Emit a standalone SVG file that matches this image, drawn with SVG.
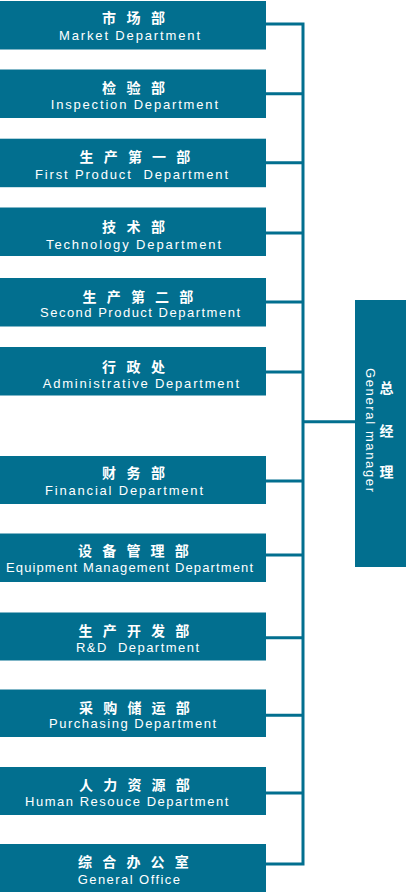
<svg xmlns="http://www.w3.org/2000/svg" width="406" height="894" viewBox="0 0 406 894">
<style>
.box{fill:#026f8f}
.cn{font-family:"Noto Sans CJK SC","Noto Sans",sans-serif;font-size:14px;font-weight:bold;fill:#fff;text-anchor:middle}
.en{font-family:"Liberation Sans",Arial,sans-serif;font-size:13px;fill:#fff}
.ln{stroke:#026f8f;stroke-width:3;fill:none}
</style>
<rect width="406" height="894" fill="#fff"/>
<g id="connectors">
<path class="ln" d="M266 24H303V864H266"/>
<path class="ln" d="M266 93.7H303M266 162.7H303M266 233H303M266 302H303M266 372H303M266 481H303M266 555H303M266 637.7H303M266 715.3H303M266 793H303M303 421.7H355"/>
</g>
<g id="gm">
<rect class="box" x="355" y="300" width="51" height="267"/>
<text class="cn" x="386.5" y="393">总</text>
<text class="cn" x="386.5" y="436">经</text>
<text class="cn" x="386.5" y="476.5">理</text>
<text class="en" transform="translate(365.7,368) rotate(90)" textLength="124" lengthAdjust="spacing">General manager</text>
</g>
<g id="market">
<rect class="box" x="0" y="1" width="266" height="48.5"/>
<text class="cn" x="109 133.5 158" y="23">市场部</text>
<text class="en" x="59" y="40" textLength="141" lengthAdjust="spacing">Market Department</text>
</g>
<g id="inspection">
<rect class="box" x="0" y="69.5" width="266" height="48.5"/>
<text class="cn" x="109 133.5 158" y="93">检验部</text>
<text class="en" x="50.7" y="109.3" textLength="167.3" lengthAdjust="spacing">Inspection Department</text>
</g>
<g id="first-product">
<rect class="box" x="0" y="138.7" width="266" height="48.5"/>
<text class="cn" x="86.5 110.7 134.9 159.1 183.3" y="162">生产第一部</text>
<text class="en" x="35" y="178.7" textLength="193" lengthAdjust="spacing" xml:space="preserve">First Product  Department</text>
</g>
<g id="technology">
<rect class="box" x="0" y="207.5" width="266" height="48.5"/>
<text class="cn" x="109 133.5 158" y="232">技术部</text>
<text class="en" x="46" y="248.7" textLength="175" lengthAdjust="spacing">Technology Department</text>
</g>
<g id="second-product">
<rect class="box" x="0" y="278" width="266" height="48.5"/>
<text class="cn" x="89.5 113.7 137.9 162.1 186.3" y="302">生产第二部</text>
<text class="en" x="40" y="317" textLength="200" lengthAdjust="spacing">Second Product Department</text>
</g>
<g id="administrative">
<rect class="box" x="0" y="347" width="266" height="48.5"/>
<text class="cn" x="109 133.5 158" y="371.7">行政处</text>
<text class="en" x="42.7" y="387.7" textLength="196.3" lengthAdjust="spacing">Administrative Department</text>
</g>
<g id="financial">
<rect class="box" x="0" y="456" width="266" height="48"/>
<text class="cn" x="109 133.5 158" y="478">财务部</text>
<text class="en" x="45" y="495" textLength="158" lengthAdjust="spacing">Financial Department</text>
</g>
<g id="equipment">
<rect class="box" x="0" y="533.5" width="266" height="48.5"/>
<text class="cn" x="85 109.2 133.4 157.6 181.8" y="556">设备管理部</text>
<text class="en" x="6" y="571.7" textLength="247" lengthAdjust="spacing">Equipment Management Department</text>
</g>
<g id="rd">
<rect class="box" x="0" y="612.5" width="266" height="48"/>
<text class="cn" x="85.5 109.7 133.9 158.1 182.3" y="636">生产开发部</text>
<text class="en" x="76" y="651.7" textLength="123" lengthAdjust="spacing" xml:space="preserve">R&amp;D  Department</text>
</g>
<g id="purchasing">
<rect class="box" x="0" y="689.5" width="266" height="47.5"/>
<text class="cn" x="86 110.2 134.4 158.6 182.8" y="712.7">采购储运部</text>
<text class="en" x="49" y="727.7" textLength="167" lengthAdjust="spacing">Purchasing Department</text>
</g>
<g id="human-resource">
<rect class="box" x="0" y="767" width="266" height="48"/>
<text class="cn" x="86 110.2 134.4 158.6 182.8" y="789.7">人力资源部</text>
<text class="en" x="25" y="806.3" textLength="203.3" lengthAdjust="spacing">Human Resouce Department</text>
</g>
<g id="general-office">
<rect class="box" x="0" y="844" width="266" height="48"/>
<text class="cn" x="85 109.2 133.4 157.6 181.8" y="866.7">综合办公室</text>
<text class="en" x="77.7" y="884" textLength="102.3" lengthAdjust="spacing">General Office</text>
</g>
</svg>
